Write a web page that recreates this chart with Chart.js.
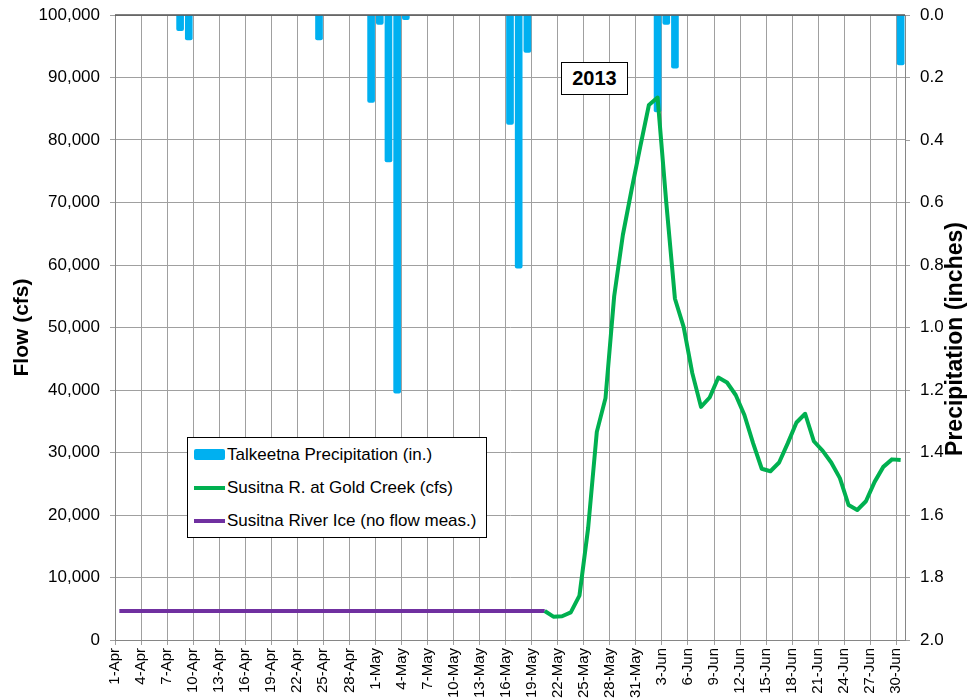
<!DOCTYPE html>
<html>
<head>
<meta charset="utf-8">
<script src="https://cdn.jsdelivr.net/npm/chart.js@4.4.1/dist/chart.umd.min.js"></script>
<style>
  body { margin: 0; background: #fff; }
  #wrap { position: relative; width: 972px; height: 698px; font-family: "Liberation Sans", Arial, sans-serif; }
  #legend { position: absolute; left: 187px; top: 437px; width: 298px; height: 99px; border: 1px solid #000; background: #fff; }
  .row { height: 33px; display: flex; align-items: center; font-size: 17px; color: #000; white-space: nowrap; }
  .sym { width: 31px; margin-left: 6px; margin-right: 2px; }
  #year { position: absolute; left: 561px; top: 62px; width: 65px; height: 31px; border: 1px solid #000; background: #fff;
          font-weight: bold; font-size: 20px; display: flex; align-items: center; justify-content: center; }
</style>
</head>
<body>
<div id="wrap">
  <canvas id="chart" width="972" height="698"></canvas>
  <div id="legend"></div>
  <div id="year">2013</div>
</div>
<script>
// x axis tick labels, every 3rd day starting 1-Apr (day index 0)
const tickLabels = ['1-Apr','4-Apr','7-Apr','10-Apr','13-Apr','16-Apr','19-Apr','22-Apr','25-Apr','28-Apr',
    '1-May','4-May','7-May','10-May','13-May','16-May','19-May','22-May','25-May','28-May','31-May',
    '3-Jun','6-Jun','9-Jun','12-Jun','15-Jun','18-Jun','21-Jun','24-Jun','27-Jun','30-Jun']
const dayCount = 91

// Talkeetna precipitation (in.), day index -> amount
const precipDays   = [7, 8, 23, 29, 30, 31, 32, 33, 45, 46, 47, 62, 63, 64, 90]
const precipInches = [0.05, 0.08, 0.08, 0.28, 0.03, 0.47, 1.21, 0.015, 0.35, 0.81, 0.12, 0.31, 0.03, 0.17, 0.16]

// Susitna R. at Gold Creek (cfs), from day 49 (20-May) to day 90 (30-Jun)
const flowStart = 49
const flow = [4640, 3730, 3800, 4430, 7100, 17900, 33300, 38700, 55000, 64800,
    72000, 78900, 85600, 86800, 70000, 54600, 50100, 42700, 37300, 38800,
    42000, 41200, 39200, 36000, 31500, 27400, 27000, 28400, 31500, 34800,
    36200, 31800, 30300, 28400, 25900, 21600, 20800, 22200, 25300, 27700,
    28900, 28800]

// Susitna River ice (no flow measured), constant placeholder value
const iceDays = [0, 49]
const iceFlow = [4640, 4640]

const gridColor = '#a0a0a0'
const axisColor = '#868686'

const precipData = precipDays.map((d, i) => ({x: d + 0.5, y: precipInches[i]}))
const flowData = flow.map((v, i) => ({x: flowStart + i + 0.5, y: v}))
const iceData = iceDays.map((d, i) => ({x: d + 0.5, y: iceFlow[i]}))

const datasets = [
    {
        type: 'bar',
        label: 'Talkeetna Precipitation (in.)',
        data: precipData,
        yAxisID: 'y2',
        backgroundColor: '#00b0f0',
        barThickness: 7,
        borderRadius: 2,
        order: 3
    },
    {
        type: 'line',
        label: 'Susitna R. at Gold Creek (cfs)',
        data: flowData,
        yAxisID: 'y',
        borderColor: '#00b050',
        borderWidth: 4,
        pointRadius: 0,
        tension: 0,
        borderJoinStyle: 'round',
        order: 1
    },
    {
        type: 'line',
        label: 'Susitna River Ice (no flow meas.)',
        data: iceData,
        yAxisID: 'y',
        borderColor: '#7030a0',
        borderWidth: 4,
        pointRadius: 0,
        order: 2
    }
]

// top border line + right axis title (reads bottom to top)
const extras = {
    id: 'extras',
    afterDraw(chart) {
        const ctx = chart.ctx
        const a = chart.chartArea
        ctx.save()
        ctx.strokeStyle = '#555'
        ctx.lineWidth = 1.5
        ctx.beginPath()
        ctx.moveTo(a.left, a.top)
        ctx.lineTo(a.right, a.top)
        ctx.stroke()
        ctx.translate(956, 339)
        ctx.rotate(-Math.PI / 2)
        ctx.fillStyle = '#000'
        ctx.font = 'bold 23px "Liberation Sans", Arial, sans-serif'
        ctx.textAlign = 'center'
        ctx.textBaseline = 'middle'
        ctx.fillText('Precipitation (inches)', 0, 0)
        ctx.restore()
    }
}

// fixed axis box sizes so the plot area sits where the original one does
function fitY(width) {
    return s => { s.width = width; s.paddingTop = 0; s.paddingBottom = 0 }
}

Chart.defaults.font.family = '"Liberation Sans", Arial, sans-serif'
Chart.defaults.color = '#000'

new Chart(document.getElementById('chart'), {
    type: 'line',
    data: { datasets: datasets },
    options: {
        responsive: false,
        animation: false,
        layout: { padding: { top: 15, left: 0, right: 0, bottom: 0 } },
        plugins: { legend: { display: false }, tooltip: { enabled: false } },
        scales: {
            x: {
                type: 'linear',
                min: 0,
                max: dayCount,
                offset: false,
                afterBuildTicks: s => { s.ticks = tickLabels.map((t, i) => ({value: i * 3})) },
                afterFit: s => { s.height = 58; s.paddingLeft = 0; s.paddingRight = 0 },
                ticks: {
                    autoSkip: false,
                    minRotation: 90,
                    maxRotation: 90,
                    padding: 3,
                    font: { size: 15 },
                    callback: v => tickLabels[Math.round(v / 3)]
                },
                grid: { color: gridColor, tickLength: 5, offset: false },
                border: { color: axisColor }
            },
            y: {
                position: 'left',
                min: 0,
                max: 100000,
                afterFit: fitY(115),
                ticks: {
                    stepSize: 10000,
                    padding: 10,
                    font: { size: 17 },
                    callback: v => v.toLocaleString('en-US')
                },
                grid: { color: gridColor, tickLength: 5 },
                border: { color: axisColor },
                title: {
                    display: true,
                    text: 'Flow (cfs)',
                    font: { size: 21, weight: 'bold' },
                    padding: { top: 10, bottom: 0 }
                }
            },
            y2: {
                position: 'right',
                reverse: true,
                min: 0,
                max: 2,
                afterFit: fitY(67),
                ticks: {
                    stepSize: 0.2,
                    padding: 10,
                    font: { size: 17 },
                    callback: v => v.toFixed(1)
                },
                grid: { drawOnChartArea: false, color: gridColor, tickLength: 5 },
                border: { color: axisColor }
            }
        }
    },
    plugins: [extras]
})

// legend built from the datasets
const legend = document.getElementById('legend')
datasets.forEach(ds => {
    const row = document.createElement('div')
    row.className = 'row'
    const sym = document.createElement('div')
    sym.className = 'sym'
    if (ds.type === 'bar') {
        sym.style.height = '11px'
        sym.style.background = ds.backgroundColor
        sym.style.borderRadius = '2px'
    } else {
        sym.style.height = '4px'
        sym.style.background = ds.borderColor
    }
    const txt = document.createElement('span')
    txt.textContent = ds.label
    row.appendChild(sym)
    row.appendChild(txt)
    legend.appendChild(row)
})
</script>
</body>
</html>
